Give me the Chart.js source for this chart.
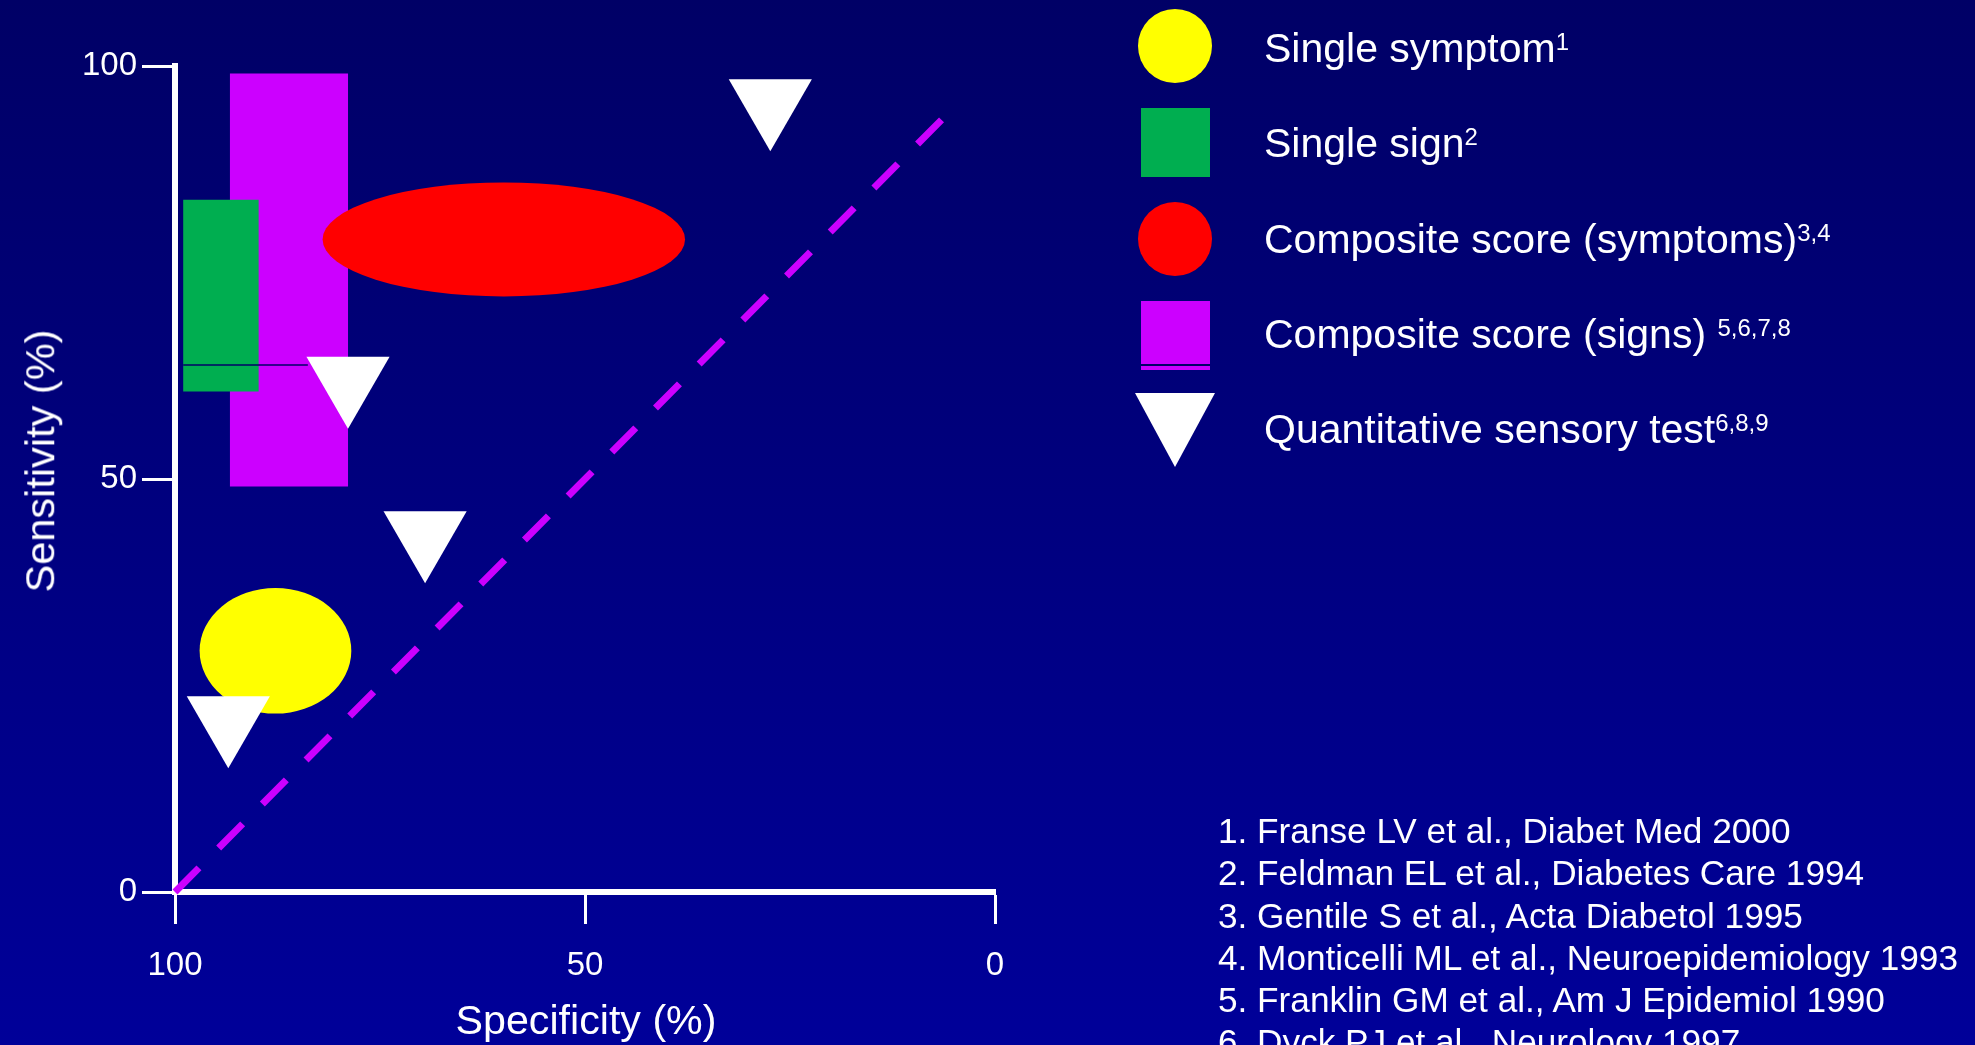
<!DOCTYPE html>
<html>
<head>
<meta charset="utf-8">
<title>Sensitivity vs specificity of screening methods</title>
<script src="https://cdn.jsdelivr.net/npm/chart.js@4.4.1/dist/chart.umd.min.js"></script>
<style>
  html, body { margin: 0; padding: 0; width: 1975px; height: 1045px; overflow: hidden; }
  body {
    position: relative;
    background: linear-gradient(to bottom, #000066 0%, #000099 100%);
    font-family: 'Liberation Sans', Arial, Helvetica, sans-serif;
    color: #ffffff;
  }
  #plot { position: absolute; left: 0; top: 0; width: 1975px; height: 1045px; }
  .txt { position: absolute; white-space: nowrap; line-height: 1; }
  .key { font-size: 41px; }
  .key sup { font-size: 24px; vertical-align: 12px; line-height: 0; }
  .swatch { position: absolute; }
  #refs { font-size: 35.2px; line-height: 42.3px; }
</style>
</head>
<body>
<div id="plot"><canvas id="chart" width="1975" height="1045"></canvas></div>

<!-- axis titles -->
<div class="txt" style="font-size:41.5px; left:40px; top:461px; transform: translate(-50%, -50%) rotate(-90deg);">Sensitivity (%)</div>
<div class="txt" style="font-size:41.2px; left:586px; top:1000px; transform: translateX(-50%);">Specificity (%)</div>

<!-- key -->
<div class="swatch" style="left:1138px; top:9px; width:74px; height:74px; border-radius:50%; background:#FFFF00;"></div>
<div class="swatch" style="left:1141px; top:108px; width:69px; height:69px; background:#00AE50;"></div>
<div class="swatch" style="left:1138px; top:202px; width:74px; height:74px; border-radius:50%; background:#FF0000;"></div>
<div class="swatch" style="left:1141px; top:301px; width:69px; height:69px; background:linear-gradient(to bottom, #CC00FF 0px, #CC00FF 63.5px, #000066 63.5px, #000066 65px, #CC00FF 65px);"></div>
<div class="swatch" style="left:1135px; top:393px; width:80px; height:74px; background:#ffffff; clip-path: polygon(0 0, 100% 0, 50% 100%);"></div>

<div class="txt key" style="left:1264px; top:28px;">Single symptom<sup>1</sup></div>
<div class="txt key" style="left:1264px; top:123px;">Single sign<sup>2</sup></div>
<div class="txt key" style="left:1264px; top:219px;">Composite score (symptoms)<sup>3,4</sup></div>
<div class="txt key" style="left:1264px; top:314px;">Composite score (signs) <sup>5,6,7,8</sup></div>
<div class="txt key" style="left:1264px; top:409px;">Quantitative sensory test<sup>6,8,9</sup></div>

<!-- references -->
<div class="txt" id="refs" style="left:1218px; top:810px;">
  1. Franse LV et al., Diabet Med 2000<br>
  2. Feldman EL et al., Diabetes Care 1994<br>
  3. Gentile S et al., Acta Diabetol 1995<br>
  4. Monticelli ML et al., Neuroepidemiology 1993<br>
  5. Franklin GM et al., Am J Epidemiol 1990<br>
  6. Dyck PJ et al., Neurology 1997
</div>

<script>
// Ranges (specificity %, sensitivity %) covered by each screening approach
const compositeSignSpec = [78.9, 93.3];
const compositeSignSens = [49.1, 99.1];
const singleSignSpec = [89.8, 99.0];
const singleSignSens = [60.6, 83.8];
const compositeSymptomSpec = [37.8, 82.0];
const compositeSymptomSens = [72.1, 85.9];
const singleSymptomSpec = [78.5, 97.0];
const singleSymptomSens = [21.6, 36.8];

// Individual quantitative sensory test studies
const qstSpec = [27.4, 78.9, 69.5, 93.5];
const qstSens = [95.5, 61.9, 43.2, 20.8];

// Chance line (sensitivity + specificity = 100)
const chanceSpec = [100, 6];
const chanceSens = [0, 94];

// Thin divider across the single-sign box
const dividerSpec = [99.0, 83.8];
const dividerSens = [63.8, 63.8];

// Axis ticks
const axisTicks = [0, 50, 100];

const toPoints = (xs, ys) => xs.map((v, i) => ({ x: v, y: ys[i] }));

// Filled regions: boxes and ellipses spanning the ranges above
const regions = [
  { shape: 'rect',    spec: compositeSignSpec,    sens: compositeSignSens,    color: '#CC00FF' },
  { shape: 'rect',    spec: singleSignSpec,       sens: singleSignSens,       color: '#00AE50' },
  { shape: 'ellipse', spec: compositeSymptomSpec, sens: compositeSymptomSens, color: '#FF0000' },
  { shape: 'ellipse', spec: singleSymptomSpec,    sens: singleSymptomSens,    color: '#FFFF00' }
];

const regionPlugin = {
  id: 'regionShapes',
  beforeDatasetsDraw(chart) {
    const { ctx, scales: { x, y } } = chart;
    ctx.save();
    regions.forEach(r => {
      const x0 = x.getPixelForValue(r.spec[0]);
      const x1 = x.getPixelForValue(r.spec[1]);
      const y0 = y.getPixelForValue(r.sens[0]);
      const y1 = y.getPixelForValue(r.sens[1]);
      const left = Math.min(x0, x1), right = Math.max(x0, x1);
      const top = Math.min(y0, y1), bottom = Math.max(y0, y1);
      ctx.fillStyle = r.color;
      ctx.beginPath();
      if (r.shape === 'rect') {
        ctx.rect(left, top, right - left, bottom - top);
      } else {
        ctx.ellipse((left + right) / 2, (top + bottom) / 2, (right - left) / 2, (bottom - top) / 2, 0, 0, Math.PI * 2);
      }
      ctx.fill();
    });
    ctx.restore();
  }
};

const tickFont = { family: "'Liberation Sans', Arial, sans-serif", size: 33 };

new Chart(document.getElementById('chart'), {
  type: 'scatter',
  data: {
    datasets: [
      {
        label: 'Quantitative sensory test',
        data: toPoints(qstSpec, qstSens),
        pointStyle: 'triangle',
        rotation: 180,
        pointRadius: 48,
        backgroundColor: '#ffffff',
        borderWidth: 0,
        order: 0,
        clip: false
      },
      {
        label: 'Chance',
        type: 'line',
        data: toPoints(chanceSpec, chanceSens),
        borderColor: '#CC00FF',
        borderWidth: 7,
        borderDash: [34, 28],
        pointRadius: 0,
        fill: false,
        order: 1,
        clip: false
      },
      {
        label: 'Divider',
        type: 'line',
        data: toPoints(dividerSpec, dividerSens),
        borderColor: '#000066',
        borderWidth: 1.5,
        pointRadius: 0,
        fill: false,
        order: 2,
        clip: false
      }
    ]
  },
  options: {
    responsive: false,
    animation: false,
    events: [],
    layout: { padding: { left: 0, top: 66, right: 980, bottom: 0 } },
    plugins: { legend: { display: false }, tooltip: { enabled: false } },
    scales: {
      x: {
        type: 'linear',
        reverse: true,
        min: 0,
        max: 100,
        afterBuildTicks: s => { s.ticks = axisTicks.map(v => ({ value: v })); },
        afterFit: s => { s.height = 153; },
        ticks: { color: '#ffffff', font: tickFont, padding: 22, maxRotation: 0 },
        grid: { drawOnChartArea: false, drawTicks: true, tickLength: 32, tickWidth: 3, tickColor: '#ffffff' },
        border: { display: true, color: '#ffffff', width: 6 },
        title: { display: false }
      },
      y: {
        type: 'linear',
        min: 0,
        max: 100,
        afterBuildTicks: s => { s.ticks = axisTicks.map(v => ({ value: v })); },
        afterFit: s => { s.width = 175; },
        ticks: { color: '#ffffff', font: tickFont, padding: 5 },
        grid: { drawOnChartArea: false, drawTicks: true, tickLength: 33, tickWidth: 3, tickColor: '#ffffff' },
        border: { display: true, color: '#ffffff', width: 6 },
        title: { display: false }
      }
    }
  },
  plugins: [regionPlugin]
});
</script>
</body>
</html>
